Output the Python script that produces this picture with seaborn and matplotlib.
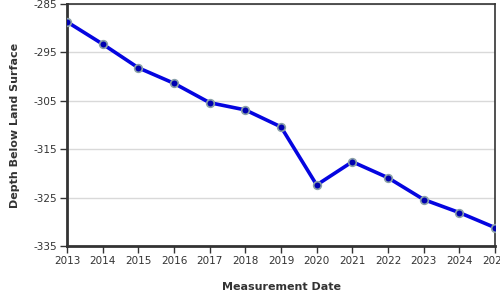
import matplotlib
matplotlib.use("Agg")
import matplotlib.pyplot as plt
import seaborn as sns
import pandas as pd

years = [2013, 2014, 2015, 2016, 2017, 2018, 2019, 2020, 2021, 2022, 2023, 2024, 2025]
depth = [-288.7, -293.3, -298.2, -301.4, -305.4, -306.9, -310.4, -322.4, -317.6, -320.9, -325.4, -328.1, -331.2]
yticks = [-285, -295, -305, -315, -325, -335]

df = pd.DataFrame({"year": years, "depth": depth})

sns.set_theme(style="white")
plt.rcParams['font.family'] = ['DejaVu Sans']

fig = plt.figure(figsize=(5, 3), dpi=100)
ax = fig.add_axes([0.134, 0.18, 0.856, 0.807])

for y in yticks:
    ax.axhline(y, color="#d9d9d9", lw=1, zorder=0)

sns.lineplot(data=df, x="year", y="depth", ax=ax, color="#0505e0", lw=2.6,
             marker="o", markersize=5.5, markerfacecolor="#0000b0",
             markeredgecolor="#8aa0a8", markeredgewidth=1.2, zorder=3)

ax.set_xlim(2013, 2025)
ax.set_ylim(-335, -285)
ax.set_xticks(years)
ax.set_xticklabels([str(y) for y in years])
ax.set_yticks(yticks)
ax.set_yticklabels([str(y) for y in yticks])
ax.tick_params(axis="both", direction="out", length=5, width=1, color="#333333",
               labelsize=7.5, labelcolor="#333333", pad=2, left=True, bottom=True)

for side in ["left", "bottom"]:
    ax.spines[side].set_linewidth(2)
    ax.spines[side].set_color("#333333")
for side in ["top", "right"]:
    ax.spines[side].set_linewidth(1.2)
    ax.spines[side].set_color("#333333")

ax.set_xlabel("Measurement Date", fontsize=8, fontweight="bold", color="#333333", labelpad=12)
ax.set_ylabel("Depth Below Land Surface", fontsize=8, fontweight="bold", color="#333333", labelpad=10)

fig.savefig("out.png", dpi=100)
